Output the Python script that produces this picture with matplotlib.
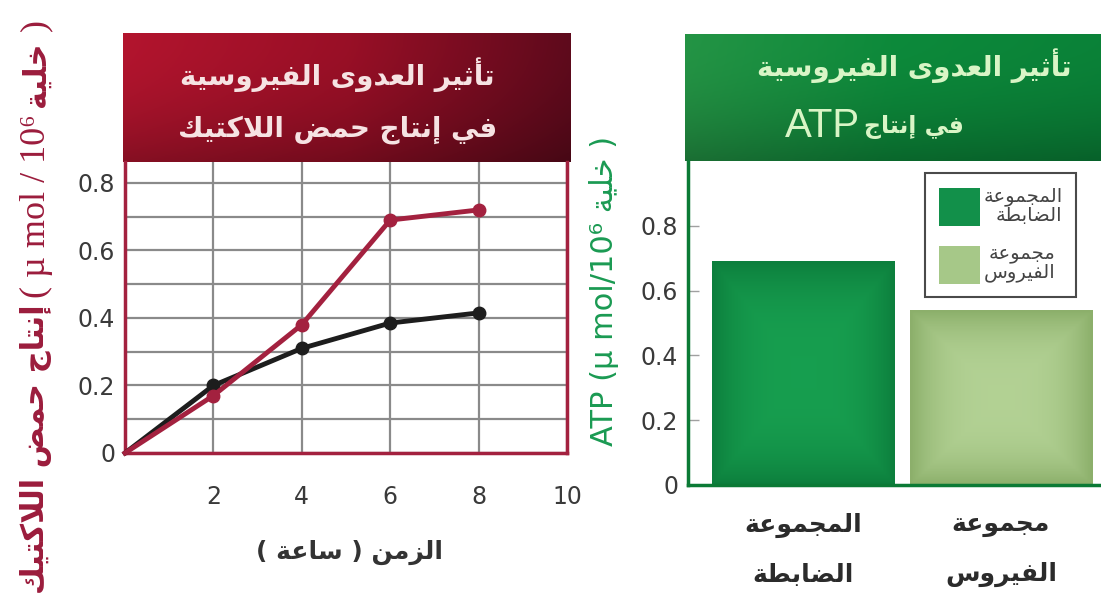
import numpy as np
import matplotlib
matplotlib.use("Agg")
import matplotlib.pyplot as plt
from matplotlib.ticker import MultipleLocator

# البيانات
hours = [0, 2, 4, 6, 8]
lactic_virus = [0, 0.17, 0.38, 0.69, 0.72]
lactic_control = [0, 0.20, 0.31, 0.385, 0.415]
x_ticks = [2, 4, 6, 8, 10]
y_ticks = [0, 0.2, 0.4, 0.6, 0.8]
y_tick_labels = ["0", "0.2", "0.4", "0.6", "0.8"]

groups = [["المجموعة", "الضابطة"], ["مجموعة", "الفيروس"]]
atp_values = [0.69, 0.54]

title_line1 = "تأثير العدوى الفيروسية"
left_title_line2 = "في إنتاج حمض اللاكتيك"
right_title_line2 = "في إنتاج"
x_label = "الزمن ( ساعة )"
lactic_label = "إنتاج حمض اللاكتيك"
cell_word = "خلية"

W, H = 1101, 602

# matplotlib does not join Arabic letters, so map them to presentation forms
DUAL = {'ب': 0xFE8F, 'ت': 0xFE95, 'ث': 0xFE99, 'ج': 0xFE9D, 'ح': 0xFEA1, 'خ': 0xFEA5,
        'س': 0xFEB1, 'ش': 0xFEB5, 'ص': 0xFEB9, 'ض': 0xFEBD, 'ط': 0xFEC1, 'ظ': 0xFEC5,
        'ع': 0xFEC9, 'غ': 0xFECD, 'ف': 0xFED1, 'ق': 0xFED5, 'ك': 0xFED9, 'ل': 0xFEDD,
        'م': 0xFEE1, 'ن': 0xFEE5, 'ه': 0xFEE9, 'ي': 0xFEF1, 'ئ': 0xFE89}
RIGHT = {'آ': 0xFE81, 'أ': 0xFE83, 'ؤ': 0xFE85, 'إ': 0xFE87, 'ا': 0xFE8D, 'ة': 0xFE93,
         'د': 0xFEA9, 'ذ': 0xFEAB, 'ر': 0xFEAD, 'ز': 0xFEAF, 'و': 0xFEED, 'ى': 0xFEEF}
LAM_ALEF = {'آ': 0xFEF5, 'أ': 0xFEF7, 'إ': 0xFEF9, 'ا': 0xFEFB}
MIRROR = {'(': ')', ')': '('}


def shape(s):
    out = []
    n = len(s)
    i = 0
    while i < n:
        c = s[i]
        prev = i > 0 and s[i - 1] in DUAL
        if c == 'ل' and i + 1 < n and s[i + 1] in LAM_ALEF:
            out.append(chr(LAM_ALEF[s[i + 1]] + (1 if prev else 0)))
            i += 2
            continue
        if c in DUAL:
            nxt = i + 1 < n and (s[i + 1] in DUAL or s[i + 1] in RIGHT)
            form = 3 if (prev and nxt) else 1 if prev else 2 if nxt else 0
            out.append(chr(DUAL[c] + form))
        elif c in RIGHT:
            out.append(chr(RIGHT[c] + (1 if prev else 0)))
        else:
            out.append(MIRROR.get(c, c))
        i += 1
    return ''.join(reversed(out))


def gradient_img(c0, c1, c2, nx=200, ny=60, dark=0.25):
    # horizontal blend c0 -> c1 -> c2, darker towards the bottom
    t = np.linspace(0, 1, nx)[:, None]
    c0, c1, c2 = np.array(c0), np.array(c1), np.array(c2)
    row = np.where(t < 0.5, c0 * (1 - 2 * t) + c1 * 2 * t,
                   c1 * (2 - 2 * t) + c2 * (2 * t - 1))
    v = np.linspace(0, 1, ny)[:, None, None]
    img = row[None, :, :] * (1 - dark * v ** 2)
    return np.clip(img, 0, 1)


def bar_gradient(center, edge, n=64):
    g = np.linspace(-1, 1, n)
    gx, gy = np.meshgrid(g, g)
    r = np.clip(np.maximum(np.abs(gx), np.abs(gy)) ** 3, 0, 1)[:, :, None]
    return np.array(center) * (1 - r) + np.array(edge) * r


plt.rcParams['font.family'] = ['DejaVu Sans']
fig = plt.figure(figsize=(W / 100, H / 100), dpi=100)
renderer = fig.canvas.get_renderer()


def vertical_chain(x_px, y_px, pieces):
    # write pieces one after another, bottom to top
    y = 1 - y_px / H
    for text, gap, kw in pieces:
        y += gap / H
        t = fig.text(x_px / W, y, text, rotation=90, rotation_mode='anchor',
                     ha='left', va='center', **kw)
        y += t.get_window_extent(renderer).height / H


# ---------- left chart: lactic acid ----------
maroon = '#a3213f'
hdr1 = fig.add_axes([123 / W, 1 - 162 / H, (571 - 123) / W, (162 - 33) / H])
hdr1.imshow(gradient_img((0.70, 0.08, 0.18), (0.60, 0.06, 0.15), (0.37, 0.04, 0.11)),
            extent=[0, 1, 0, 1], aspect='auto')
hdr1.axis('off')
hdr1.text(0.478, 0.674, shape(title_line1), transform=hdr1.transAxes, ha='center',
          va='center', fontsize=20, fontweight='bold', color='#f6e3e3')
hdr1.text(0.478, 0.248, shape(left_title_line2), transform=hdr1.transAxes, ha='center',
          va='center', fontsize=20, fontweight='bold', color='#f6e3e3')

ax1 = fig.add_axes([125 / W, 1 - 453 / H, 442 / W, 291 / H])
ax1.set_xlim(0, 10)
ax1.set_ylim(0, 0.862)
ax1.set_xticks(x_ticks)
ax1.set_yticks(y_ticks)
ax1.set_yticklabels(y_tick_labels)
ax1.yaxis.set_minor_locator(MultipleLocator(0.1))
ax1.grid(which='both', axis='y', color='#8a8a8a', lw=1.6)
ax1.grid(which='major', axis='x', color='#8a8a8a', lw=1.6)
ax1.set_axisbelow(True)
ax1.tick_params(which='both', length=0, labelsize=17, labelcolor='#3a3a3a')
ax1.tick_params(axis='x', pad=23)
ax1.tick_params(axis='y', pad=7)
for side in ['left', 'right', 'bottom']:
    ax1.spines[side].set_color(maroon)
    ax1.spines[side].set_linewidth(2.5)
ax1.spines['top'].set_visible(False)

ax1.plot(hours, lactic_control, color='#1d1d1d', lw=3.5, marker='o', ms=9,
         markevery=slice(1, None), zorder=3, clip_on=False)
ax1.plot(hours, lactic_virus, color=maroon, lw=3.5, marker='o', ms=9,
         markevery=slice(1, None), zorder=4, clip_on=False)

fig.text(349 / W, 1 - 552 / H, shape(x_label), ha='center', va='center',
         fontsize=18, fontweight='bold', color='#333333')

serif = ['Liberation Serif', 'DejaVu Sans']
lab_col = '#9b1c3c'
vertical_chain(36, 594, [
    (shape(lactic_label), 0, dict(fontsize=22, fontweight='bold', color=lab_col)),
    ("( µ mol / 10⁶", 6, dict(fontsize=26, color=lab_col, family=serif)),
    (shape(cell_word), 8, dict(fontsize=22, fontweight='bold', color=lab_col)),
    (")", 10, dict(fontsize=26, color=lab_col, family=serif)),
])

# ---------- right chart: ATP ----------
green = '#0b7a35'
hdr2 = fig.add_axes([685 / W, 1 - 161 / H, (1101 - 685) / W, (161 - 34) / H])
hdr2.imshow(gradient_img((0.14, 0.58, 0.27), (0.05, 0.54, 0.23), (0.04, 0.51, 0.22)),
            extent=[0, 1, 0, 1], aspect='auto')
hdr2.axis('off')
hdr2.text(0.55, 0.748, shape(title_line1), transform=hdr2.transAxes, ha='center',
          va='center', fontsize=20, fontweight='bold', color='#d9f5c6')
hdr2.text(0.421, 0.189, "ATP", transform=hdr2.transAxes, ha='right', va='baseline',
          fontsize=29, color='#d9f5c6', family=['Liberation Sans', 'DejaVu Sans'])
hdr2.text(0.430, 0.22, shape(right_title_line2), transform=hdr2.transAxes, ha='left',
          va='baseline', fontsize=17, fontweight='bold', color='#d9f5c6')

ax2 = fig.add_axes([688 / W, 1 - 485 / H, (1101 - 688) / W, (485 - 161) / H])
group_labels = ['\n'.join(shape(w) for w in g) for g in groups]
bars = ax2.bar([0, 1], atp_values, width=0.925, color=['#12904a', '#a6c888'], zorder=2)
fills = [bar_gradient((0.09, 0.62, 0.31), (0.05, 0.50, 0.24)),
         bar_gradient((0.70, 0.82, 0.58), (0.55, 0.69, 0.42))]
for b, img in zip(bars, fills):
    x0, w, h = b.get_x(), b.get_width(), b.get_height()
    im = ax2.imshow(img, extent=[x0, x0 + w, 0, h], aspect='auto', zorder=2.5)
    im.set_clip_path(b)
ax2.set_aspect('auto')
ax2.set_xlim(-0.585, 1.506)
ax2.set_ylim(0, 1.0)

ax2.set_yticks(y_ticks)
ax2.set_yticklabels(y_tick_labels)
ax2.set_xticks([0, 1])
ax2.set_xticklabels(group_labels, fontsize=18, fontweight='bold', color='#2b2b2b',
                    linespacing=2.3)
ax2.tick_params(axis='x', length=0, pad=20)
ax2.tick_params(axis='y', direction='in', length=8, width=1, color='#a0a0a0',
                labelsize=17, labelcolor='#3a3a3a', pad=7)
for side in ['left', 'bottom']:
    ax2.spines[side].set_color(green)
    ax2.spines[side].set_linewidth(2.5)
ax2.spines['top'].set_visible(False)
ax2.spines['right'].set_visible(False)

leg = ax2.legend(handles=list(bars), labels=group_labels, loc='upper left',
                 bbox_to_anchor=(0.574, 0.963), borderaxespad=0, fontsize=14,
                 handlelength=2.1, handleheight=2.64, labelspacing=0.9,
                 handletextpad=0.2, borderpad=0.7, fancybox=False, framealpha=1)
leg.get_frame().set_edgecolor('#4a4a4a')
leg.get_frame().set_linewidth(1.5)
for t in leg.get_texts():
    t.set_color('#444444')
    t.set_multialignment('right')
    t.set_linespacing(1.0)

fig.text(604 / W, 1 - 291 / H, "ATP (µ mol/10⁶ " + shape(cell_word) + " )",
         rotation=90, ha='center', va='center', fontsize=22, color='#1a9a52')

fig.savefig("out.png", dpi=100)
